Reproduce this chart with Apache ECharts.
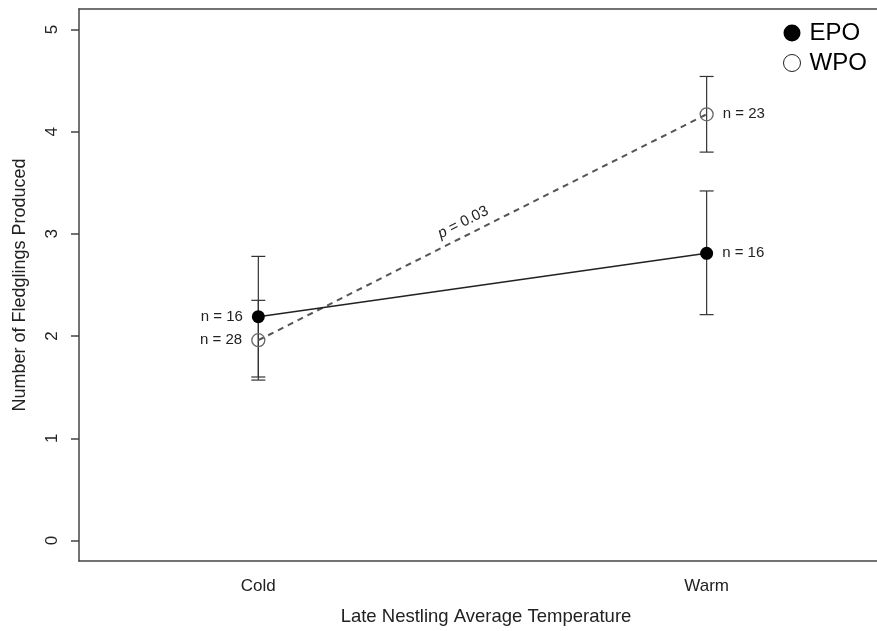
<!DOCTYPE html>
<html>
<head>
<meta charset="utf-8">
<script src="https://cdn.jsdelivr.net/npm/echarts@6/dist/echarts.min.js"></script>
<style>
  html, body { margin: 0; padding: 0; background: #fff; }
  #chart { width: 877px; height: 631px; }
</style>
</head>
<body>
<div id="chart"></div>
<script>
// categories on the x axis (positions 1 and 2)
const categories = ['Cold', 'Warm'];
const catPos = [1, 2];

// EPO: mean and error bar ends
const epoMean = [2.19, 2.81];
const epoLow = [1.60, 2.21];
const epoHigh = [2.78, 3.42];
const epoN = ['n = 16', 'n = 16'];

// WPO: mean and error bar ends
const wpoMean = [1.96, 4.17];
const wpoLow = [1.57, 3.80];
const wpoHigh = [2.35, 4.54];
const wpoN = ['n = 28', 'n = 23'];

const yTicks = [0, 1, 2, 3, 4, 5];
const pText = '{i|p} = 0.03';
const xTitle = 'Late Nestling Average Temperature';

const FONT = '"Liberation Sans", Arial, Helvetica, sans-serif';
const BOX = { color: '#444', width: 1.5 };

const chart = echarts.init(document.getElementById('chart'));

// error bars drawn by a custom series
function errorBarItem(params, api) {
  const x = api.value(0);
  const lo = api.coord([x, api.value(1)]);
  const hi = api.coord([x, api.value(2)]);
  const cap = 7;
  const style = { stroke: '#333', lineWidth: 1.2 };
  return {
    type: 'group',
    children: [
      { type: 'line', shape: { x1: lo[0], y1: lo[1], x2: hi[0], y2: hi[1] }, style: style },
      { type: 'line', shape: { x1: lo[0] - cap, y1: lo[1], x2: lo[0] + cap, y2: lo[1] }, style: style },
      { type: 'line', shape: { x1: hi[0] - cap, y1: hi[1], x2: hi[0] + cap, y2: hi[1] }, style: style }
    ]
  };
}

function lineData(means, labels) {
  return catPos.map((x, i) => ({
    value: [x, means[i]],
    label: {
      show: true,
      position: i === 0 ? 'left' : 'right',
      distance: 9,
      formatter: labels[i]
    }
  }));
}

const option = {
  backgroundColor: '#fff',
  animation: false,
  textStyle: { fontFamily: FONT },
  // the box is cut off on the right in the original, so draw only three sides
  grid: { left: 79, top: 9, right: 0, bottom: 70 },
  legend: {
    orient: 'vertical',
    left: 778, top: 16,
    itemWidth: 17, itemHeight: 17, itemGap: 6,
    textStyle: { fontSize: 24, color: '#000', fontFamily: FONT, padding: [0, 0, 0, 4] },
    data: [
      { name: 'EPO', icon: 'circle', itemStyle: { color: '#000', borderWidth: 0 } },
      { name: 'WPO', icon: 'circle', itemStyle: { color: '#fff', borderColor: '#222', borderWidth: 1 } }
    ]
  },
  xAxis: [
    {
      type: 'value', min: 0.6, max: 2.38, position: 'bottom',
      axisLine: { show: true, onZero: false, lineStyle: BOX },
      axisTick: { show: false },
      splitLine: { show: false },
      axisLabel: {
        customValues: catPos,
        formatter: v => categories[catPos.indexOf(v)] || '',
        fontSize: 17, color: '#222', margin: 17, fontFamily: FONT
      }
    },
    {
      type: 'value', min: 0.6, max: 2.38, position: 'top',
      axisLine: { show: true, onZero: false, lineStyle: BOX },
      axisTick: { show: false },
      axisLabel: { show: false },
      splitLine: { show: false }
    }
  ],
  yAxis: {
    type: 'value', min: -0.2, max: 5.2,
    name: 'Number of Fledglings Produced',
    nameLocation: 'middle', nameGap: 50,
    nameTextStyle: { fontSize: 18, color: '#222', fontFamily: FONT },
    axisLine: { show: true, onZero: false, lineStyle: BOX },
    axisTick: { show: true, customValues: yTicks, length: 8, lineStyle: BOX },
    splitLine: { show: false },
    axisLabel: {
      customValues: yTicks, rotate: 90,
      fontSize: 17, color: '#222', margin: 18, fontFamily: FONT
    }
  },
  series: [
    {
      name: 'EPO bars', type: 'custom', renderItem: errorBarItem, z: 1,
      data: catPos.map((x, i) => [x, epoLow[i], epoHigh[i]])
    },
    {
      name: 'WPO bars', type: 'custom', renderItem: errorBarItem, z: 1,
      data: catPos.map((x, i) => [x, wpoLow[i], wpoHigh[i]])
    },
    {
      name: 'WPO', type: 'line', z: 2,
      symbol: 'circle', symbolSize: 13,
      itemStyle: { color: 'rgba(0,0,0,0)', borderColor: '#666', borderWidth: 1.3 },
      lineStyle: { color: '#555', width: 2, type: [6, 5] },
      label: { fontSize: 15, color: '#222', fontFamily: FONT },
      data: lineData(wpoMean, wpoN)
    },
    {
      name: 'EPO', type: 'line', z: 3,
      symbol: 'circle', symbolSize: 13,
      itemStyle: { color: '#000' },
      lineStyle: { color: '#222', width: 1.6 },
      label: { fontSize: 15, color: '#222', fontFamily: FONT },
      data: lineData(epoMean, epoN)
    }
  ]
};

chart.setOption(option);

// p-value note along the dashed WPO line
const p0 = chart.convertToPixel({ xAxisIndex: 0, yAxisIndex: 0 }, [catPos[0], wpoMean[0]]);
const p1 = chart.convertToPixel({ xAxisIndex: 0, yAxisIndex: 0 }, [catPos[1], wpoMean[1]]);
const angle = Math.atan2(p0[1] - p1[1], p1[0] - p0[0]);
const t = 0.47;
const mid = [p0[0] + (p1[0] - p0[0]) * t, p0[1] + (p1[1] - p0[1]) * t];
chart.setOption({
  graphic: [
    {
      type: 'text',
      x: mid[0] - 13 * Math.sin(angle),
      y: mid[1] - 13 * Math.cos(angle),
      rotation: angle,
      style: {
        text: pText,
        x: 0, y: 0,
        align: 'center', verticalAlign: 'middle',
        font: '15px ' + FONT,
        fill: '#222',
        rich: { i: { fontStyle: 'italic', fontSize: 15, fontFamily: FONT } }
      }
    },
    {
      // x axis title, a little left of the plot centre as in the original
      type: 'text',
      x: 486, y: 617,
      style: {
        text: xTitle, x: 0, y: 0,
        align: 'center', verticalAlign: 'middle',
        font: '18.5px ' + FONT, fill: '#222'
      }
    }
  ]
});
</script>
</body>
</html>
